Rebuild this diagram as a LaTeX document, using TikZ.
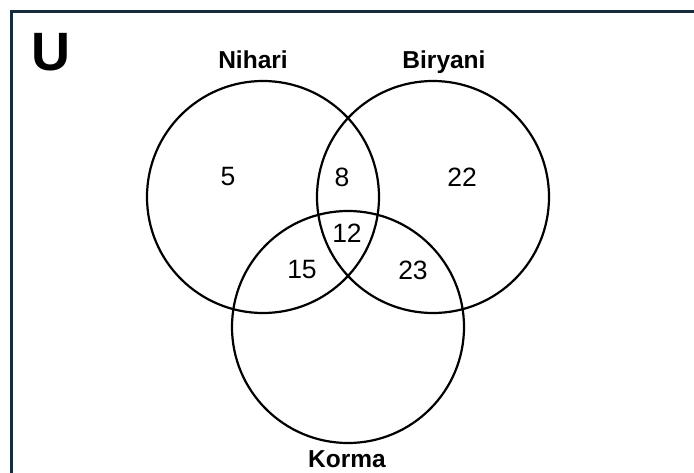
\documentclass[tikz,border=0pt]{standalone}
\usepackage{fontspec}
\setmainfont{Liberation Sans}
\definecolor{framecol}{RGB}{22,44,60}
\begin{document}
\begin{tikzpicture}[x=1pt,y=-1pt,
  setc/.style={circle,draw=black,line width=2.2pt,minimum size=232pt,inner sep=0pt},
  num/.style={font=\fontsize{26.5}{30}\selectfont,inner sep=0pt},
  lab/.style={font=\fontsize{24.5}{28}\selectfont\bfseries,inner sep=0pt,anchor=base}]
\useasboundingbox (0,0) rectangle (694,472);
\draw[framecol,line width=2.5pt] (705,11.5) -- (11.5,11.5) -- (11.5,485);
\node[font=\fontsize{54}{60}\selectfont\bfseries,inner sep=0pt,anchor=base] (U) at (50.5,70) {U};
\node[setc] (N) at (263,197) {};
\node[setc] (B) at (433,197) {};
\node[setc] (K) at (348,327) {};
\node[lab] (Nl) at (253,68) {Nihari};
\node[lab] (Bl) at (444,68) {Biryani};
\node[lab] (Kl) at (347,467) {Korma};
\node[num] (n5) at (228,177) {5};
\node[num] (n8) at (342,177) {8};
\node[num] (n12) at (347,233) {12};
\node[num] (n15) at (302,270) {15};
\node[num] (n22) at (462,177) {22};
\node[num] (n23) at (413,270) {23};
\end{tikzpicture}
\end{document}
